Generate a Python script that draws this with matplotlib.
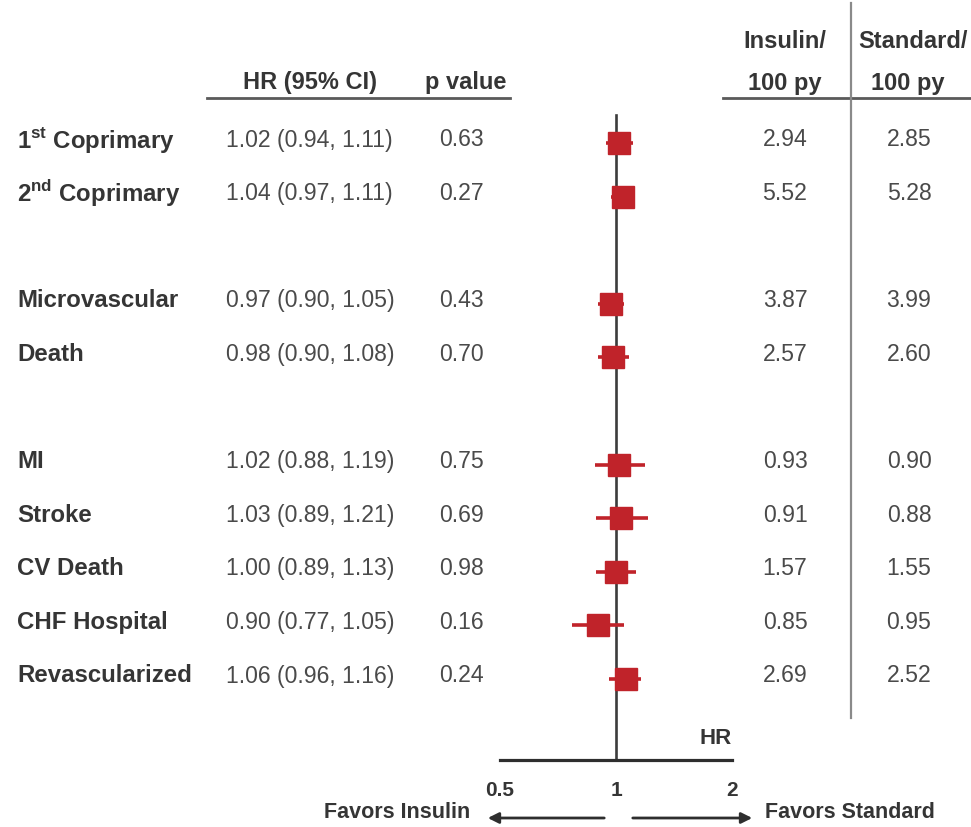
import numpy as np
import matplotlib.pyplot as plt

plt.rcParams['font.family'] = ['Liberation Sans', 'DejaVu Sans']
plt.rcParams['mathtext.fontset'] = 'custom'
plt.rcParams['mathtext.bf'] = 'Liberation Sans:bold'
plt.rcParams['mathtext.rm'] = 'Liberation Sans'

# Outcomes and results
outcomes = [r'1$^{\mathbf{st}}$ Coprimary', r'2$^{\mathbf{nd}}$ Coprimary',
            'Microvascular', 'Death',
            'MI', 'Stroke', 'CV Death', 'CHF Hospital', 'Revascularized']
group = [0, 0, 1, 1, 2, 2, 2, 2, 2]
hr = [1.02, 1.04, 0.97, 0.98, 1.02, 1.03, 1.00, 0.90, 1.06]
ci_low = [0.94, 0.97, 0.90, 0.90, 0.88, 0.89, 0.89, 0.77, 0.96]
ci_high = [1.11, 1.11, 1.05, 1.08, 1.19, 1.21, 1.13, 1.05, 1.16]
p_values = [0.63, 0.27, 0.43, 0.70, 0.75, 0.69, 0.98, 0.16, 0.24]
rate_insulin = [2.94, 5.52, 3.87, 2.57, 0.93, 0.91, 1.57, 0.85, 2.69]
rate_standard = [2.85, 5.28, 3.99, 2.60, 0.90, 0.88, 1.55, 0.95, 2.52]
hr_ticks = [0.5, 1, 2]

RED = '#c0232a'
TXT = '#353535'
NUM = '#4a4a4a'
LINE = '#5a5a5a'

W, H = 971, 827
fig = plt.figure(figsize=(W / 100, H / 100), dpi=100)

# page axes in pixel-like units for the table
ax = fig.add_axes([0, 0, 1, 1])
ax.set_xlim(0, W)
ax.set_ylim(H, 0)
ax.axis('off')

# row positions: one slot per row, an empty slot between groups
y0, step = 143, 53.6
slots = np.arange(len(outcomes)) + np.array(group)
rows = y0 + step * slots

# forest plot axes on a log HR scale
x_left, x_right = 500, 732
fax = fig.add_axes([x_left / W, 0, (x_right - x_left) / W, 1])
fax.set_xscale('log')
fax.set_xlim(0.5, 2)
fax.set_ylim(H, 0)
fax.axis('off')
fax.patch.set_alpha(0)

axis_y = 760
fax.plot([1, 1], [115, axis_y], color='#3c3c3c', lw=1.9, zorder=1)
fax.plot([0.5, 2], [axis_y, axis_y], color='#2e2e2e', lw=2.3, clip_on=False)
for t in hr_ticks:
    fax.text(t, 790, f'{t:g}', ha='center', va='center', fontsize=15,
             fontweight='bold', color=TXT, clip_on=False)
fax.text(2, 738, 'HR', ha='right', va='center', fontsize=16,
         fontweight='bold', color=TXT)

for y, h, lo, hi in zip(rows, hr, ci_low, ci_high):
    fax.plot([lo, hi], [y, y], color=RED, lw=2.6, solid_capstyle='butt', zorder=2)
    fax.plot(h, y, marker='s', color=RED, markersize=16, zorder=3)

# table columns
for y, name, h, lo, hi, p, ri, rs in zip(rows, outcomes, hr, ci_low, ci_high,
                                         p_values, rate_insulin, rate_standard):
    ty = y - 3
    ax.text(17, ty, name, ha='left', va='center', fontsize=17.3,
            fontweight='bold', color=TXT)
    ax.text(226, ty, f'{h:.2f} ({lo:.2f}, {hi:.2f})', ha='left', va='center',
            fontsize=16.6, color=NUM)
    ax.text(461, ty, f'{p:.2f}', ha='center', va='center', fontsize=16.6, color=NUM)
    ax.text(785, ty, f'{ri:.2f}', ha='center', va='center', fontsize=16.6, color=NUM)
    ax.text(909, ty, f'{rs:.2f}', ha='center', va='center', fontsize=16.6, color=NUM)

# headers
hdr = dict(fontsize=17, fontweight='bold', color=TXT, va='baseline', ha='center')
ax.text(310, 89, 'HR (95% CI)', **hdr)
ax.text(466, 89, 'p value', **hdr)
ax.text(785, 48, 'Insulin/', **hdr)
ax.text(785, 90, '100 py', **hdr)
ax.text(913, 48, 'Standard/', **hdr)
ax.text(908, 90, '100 py', **hdr)
ax.plot([207, 510], [98, 98], color=LINE, lw=2)
ax.plot([723, W], [98, 98], color=LINE, lw=2)
ax.plot([851, 851], [3, 718], color='#8a8a8a', lw=1.6)

# direction arrows
ax.annotate('', xy=(485, 818), xytext=(607, 818),
            arrowprops=dict(arrowstyle='-|>', color='#2e2e2e', lw=2,
                            mutation_scale=16))
ax.annotate('', xy=(755, 818), xytext=(630, 818),
            arrowprops=dict(arrowstyle='-|>', color='#2e2e2e', lw=2,
                            mutation_scale=16))
ax.text(470, 813, 'Favors Insulin', ha='right', va='center', fontsize=15.5,
        fontweight='bold', color=TXT)
ax.text(765, 813, 'Favors Standard', ha='left', va='center', fontsize=15.5,
        fontweight='bold', color=TXT)

fig.savefig('out.png', dpi=100, facecolor='white')
